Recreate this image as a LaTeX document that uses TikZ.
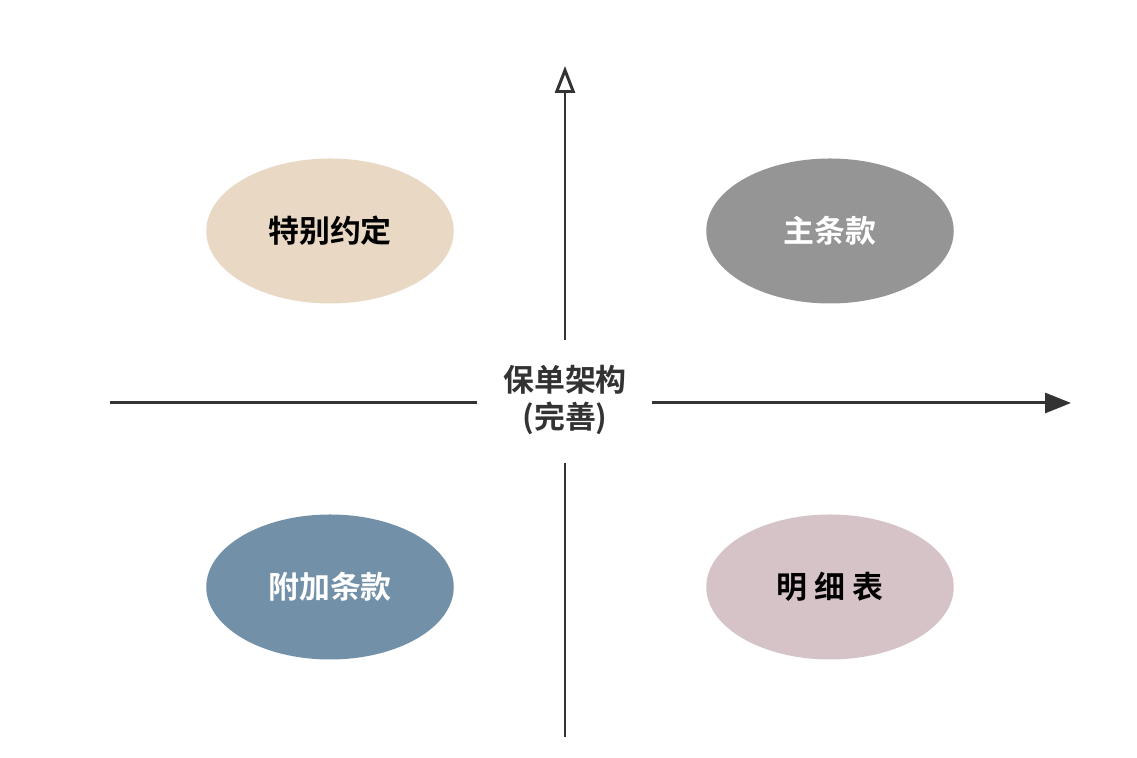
\documentclass[tikz,border=0pt]{standalone}
\usepackage{fontspec}
\setmainfont{Noto Sans CJK SC}[BoldFont={Noto Sans CJK SC Bold}]
\usetikzlibrary{shapes.geometric}
\usetikzlibrary{arrows.meta}
\usepackage{xcolor}
\definecolor{axisgray}{HTML}{333333}
\definecolor{beige}{HTML}{E8D8C4}
\definecolor{midgray}{HTML}{959595}
\definecolor{slate}{HTML}{7290A8}
\definecolor{rosegray}{HTML}{D5C3C7}

\begin{document}
\begin{tikzpicture}[
oval/.style = {ellipse, minimum width=4.95cm, minimum height=2.9cm,
            inner sep=0pt, draw=none},
axis/.style = {axisgray, line width=1.7pt},
lbl/.style  = {font=\bfseries\fontsize{17.6}{21}\selectfont}
                ]
    \useasboundingbox (0,0) rectangle (22.74,15.16);
    % centre label
    \node[lbl, text=axisgray, align=center] (c) at (11.30,7.16) {保单架构\\(完善)};
    % axis end points
    \coordinate (vbot) at (11.30,0.42);
    \coordinate (vlow) at (11.30,5.90);
    \coordinate (vup) at (11.30,8.36);
    \coordinate (vtop) at (11.30,13.84);
    \coordinate (hleft) at (2.20,7.10);
    \coordinate (hl) at (9.54,7.10);
    \coordinate (hr) at (13.04,7.10);
    \coordinate (hright) at (21.42,7.10);
    \draw [axis] (vbot) -- (vlow);
    \draw [axis, -{Triangle[open, length=5.4mm, width=4mm, line width=1.7pt]}] (vup) -- (vtop);
    \draw [axis] (hleft) -- (hl);
    \draw [axis, -{Triangle[length=5.2mm, width=4mm]}] (hr) -- (hright);
    % the four quadrants
    \foreach \n/\x/\y/\c/\t/\s in {tbyd/6.60/10.54/beige/black/特别约定,
                                  ztk/16.60/10.54/midgray/white/主条款,
                                  fjtk/6.60/3.42/slate/white/附加条款,
                                  mxb/16.60/3.42/rosegray/black/明 细 表}
        \node[oval, lbl, fill=\c, text=\t] (\n) at (\x,\y) {\s};
\end{tikzpicture}
\end{document}
